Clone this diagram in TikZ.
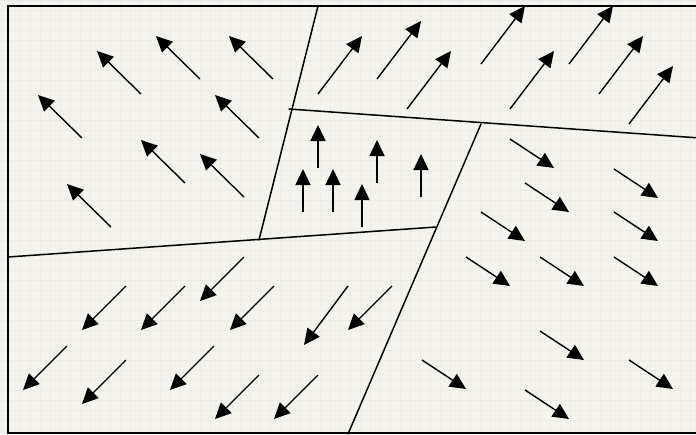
\documentclass[tikz,border=0pt]{standalone}
\usetikzlibrary{arrows.meta}
\definecolor{paper}{RGB}{244,243,237}
\definecolor{paperline}{RGB}{238,237,229}

\begin{document}
\begin{tikzpicture}[
    x=1pt, y=-1pt,
    field/.style={-{Triangle[length=16pt, width=15pt]}, line width=1.4pt},
    border/.style={line width=1.5pt, line cap=round}]
    % paper and faint grid
    \fill[paper] (0,0) rectangle (696,434);
    \useasboundingbox (0,0) rectangle (696,434);
    \draw[paperline, line width=0.4pt] (0,0) grid[step=10pt] (696,434);
    % frame
    \draw[line width=1.7pt] (8,6) rectangle (700,433);
    % region borders
    \coordinate (tl) at (318,6);
    \coordinate (cl) at (259,240);
    \coordinate (ml) at (289,109);
    \coordinate (mr) at (700,138);
    \coordinate (ct) at (481,124);
    \coordinate (cb) at (348,434);
    \coordinate (ll) at (8,257);
    \coordinate (lr) at (436,227);
    \draw[border] (tl) -- (cl);
    \draw[border] (ml) -- (mr);
    \draw[border] (ct) -- (cb);
    \draw[border] (ll) -- (lr);
    % upper left: north-west
    \foreach \x/\y in {273/79, 200/79, 141/94, 82/138, 259/138, 185/183, 244/197, 111/227}
      \draw[field] (\x,\y) -- ++(-44,-43);
    % upper right: north-east
    \foreach \x/\y in {318/94, 377/79, 407/109, 481/64, 510/109, 569/64, 599/94, 629/124}
      \draw[field] (\x,\y) -- ++(44,-58);
    % centre: north
    \foreach \x/\y in {318/168, 303/212, 333/212, 377/183, 421/197, 362/227}
      \draw[field] (\x,\y) -- ++(0,-43);
    % lower left: south-west
    \foreach \x/\y in {244/257, 126/286, 185/286, 274/286, 392/286, 67/346, 126/360, 214/346, 259/375, 318/375}
      \draw[field] (\x,\y) -- ++(-44,44);
    \draw[field] (348,286) -- ++(-44,59);
    % lower right: south-east
    \foreach \x/\y in {510/139, 614/169, 525/183, 481/212, 614/212, 466/257, 540/257, 614/257, 540/331, 422/360, 629/360, 525/390}
      \draw[field] (\x,\y) -- ++(44,29);
\end{tikzpicture}
\end{document}
